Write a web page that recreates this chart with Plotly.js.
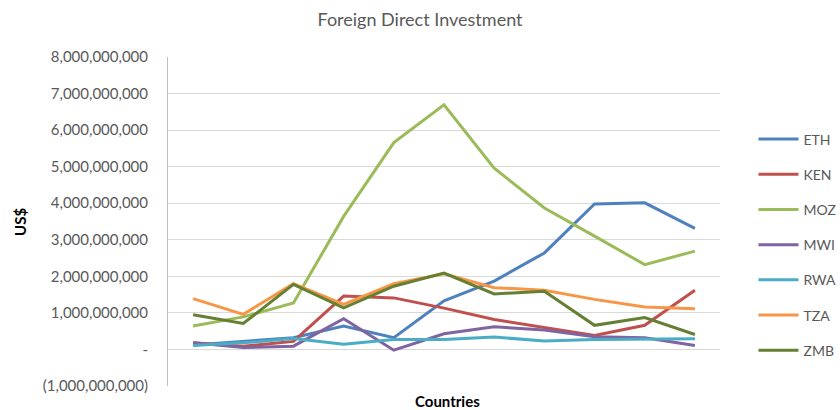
<!DOCTYPE html>
<html>
<head>
<meta charset="utf-8">
<script src="https://cdn.plot.ly/plotly-3.0.1.min.js"></script>
<style>html,body{margin:0;padding:0;background:#fff;}#chart{width:840px;height:410px;}</style>
</head>
<body>
<div id="chart"></div>
<script>
// Observation index (no category labels shown in the original)
const periods = [1, 2, 3, 4, 5, 6, 7, 8, 9, 10, 11];

// Foreign direct investment, US$
const ETH = [0.12e9, 0.23e9, 0.32e9, 0.64e9, 0.32e9, 1.33e9, 1.87e9, 2.64e9, 3.98e9, 4.01e9, 3.31e9];
const KEN = [0.18e9, 0.09e9, 0.22e9, 1.46e9, 1.41e9, 1.13e9, 0.82e9, 0.59e9, 0.38e9, 0.66e9, 1.62e9];
const MOZ = [0.64e9, 0.89e9, 1.27e9, 3.64e9, 5.66e9, 6.69e9, 4.96e9, 3.87e9, 3.10e9, 2.32e9, 2.69e9];
const MWI = [0.18e9, 0.05e9, 0.09e9, 0.84e9, -0.02e9, 0.43e9, 0.62e9, 0.53e9, 0.35e9, 0.32e9, 0.11e9];
const RWA = [0.11e9, 0.18e9, 0.30e9, 0.14e9, 0.27e9, 0.27e9, 0.34e9, 0.23e9, 0.27e9, 0.27e9, 0.29e9];
const TZA = [1.39e9, 0.96e9, 1.80e9, 1.23e9, 1.80e9, 2.07e9, 1.69e9, 1.62e9, 1.37e9, 1.16e9, 1.11e9];
const ZMB = [0.95e9, 0.71e9, 1.78e9, 1.14e9, 1.73e9, 2.09e9, 1.52e9, 1.59e9, 0.66e9, 0.87e9, 0.41e9];

const seriesNames = ['ETH', 'KEN', 'MOZ', 'MWI', 'RWA', 'TZA', 'ZMB'];
const seriesValues = [ETH, KEN, MOZ, MWI, RWA, TZA, ZMB];
const seriesColors = ['#4F81BD', '#C0504D', '#9BBB59', '#8064A2', '#4BACC6', '#F79646', '#657F33'];

const yTickVals = [-1e9, 0, 1e9, 2e9, 3e9, 4e9, 5e9, 6e9, 7e9, 8e9];
const yTickText = ['(1,000,000,000)', '-', '1,000,000,000', '2,000,000,000', '3,000,000,000',
  '4,000,000,000', '5,000,000,000', '6,000,000,000', '7,000,000,000', '8,000,000,000'];

const FONT = 'Lato, "Open Sans", sans-serif';

const traces = seriesNames.map((name, i) => ({
  type: 'scatter',
  mode: 'lines',
  name: name,
  legendgroup: name,
  x: periods.map(String),
  y: seriesValues[i],
  line: {color: seriesColors[i], width: 3}
}));

const layout = {
  width: 840,
  height: 410,
  margin: {l: 168, r: 120, t: 57, b: 24},
  paper_bgcolor: '#ffffff',
  plot_bgcolor: '#ffffff',
  font: {family: FONT, color: '#595959', size: 14},
  title: {text: 'Foreign Direct Investment', x: 0.5, xref: 'container', xanchor: 'center',
          y: 0.951, yref: 'container', yanchor: 'middle',
          font: {family: FONT, size: 18, color: '#595959'}},
  showlegend: true,
  legend: {xref: 'container', x: 0.897, xanchor: 'left', y: 0.798, yanchor: 'top',
           font: {family: FONT, size: 14, color: '#595959'},
           traceorder: 'grouped', tracegroupgap: 14, itemwidth: 40},
  xaxis: {
    type: 'category',
    range: [-0.5, 10.5],
    showticklabels: false,
    showgrid: false,
    zeroline: false,
    showline: false,
    ticks: ''
  },
  yaxis: {
    range: [-1e9, 8e9],
    tickvals: yTickVals,
    ticktext: yTickText,
    showgrid: true,
    gridcolor: '#D9D9D9',
    gridwidth: 1,
    zeroline: false,
    showline: true,
    linecolor: '#BFBFBF',
    linewidth: 1,
    ticks: '',
    ticklabelstandoff: 16,
    tickfont: {family: FONT, size: 15, color: '#595959'}
  },
  annotations: [
    {text: '<b>US$</b>', xref: 'paper', yref: 'paper', x: -0.289, y: 0.5, textangle: -90,
     showarrow: false, font: {family: FONT, size: 15, color: '#000000'}},
    {text: '<b>Countries</b>', xref: 'paper', yref: 'paper', x: 0.507, y: -0.047, yanchor: 'middle',
     showarrow: false, font: {family: FONT, size: 15, color: '#000000'}}
  ]
};

Plotly.newPlot('chart', traces, layout, {displayModeBar: false, staticPlot: true});
</script>
</body>
</html>
